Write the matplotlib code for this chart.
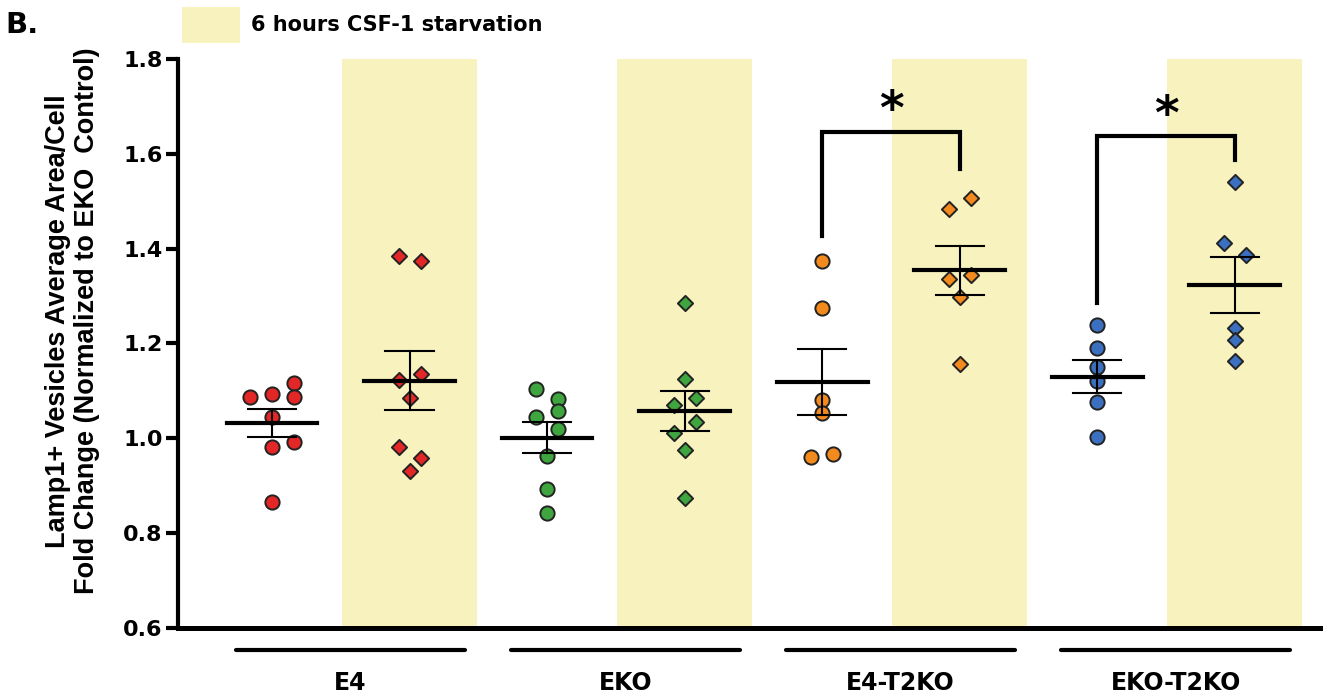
import numpy as np
import matplotlib.pyplot as plt
from matplotlib.patches import Rectangle

plt.rcParams['font.family'] = ['DejaVu Sans']
plt.rcParams['font.weight'] = 'bold'

groups = ['E4', 'EKO', 'E4-T2KO', 'EKO-T2KO']
colors = ['#e32626', '#3fa53f', '#f28a1e', '#3b70c0']
band_color = '#f8f2bf'

# control (circles)
ctrl_vals = [
    [1.087, 1.093, 1.116, 1.087, 1.044, 0.992, 0.982, 0.865],
    [1.103, 1.083, 1.057, 1.045, 1.020, 0.962, 0.894, 0.843],
    [1.375, 1.275, 1.080, 1.054, 0.961, 0.966],
    [1.239, 1.191, 1.151, 1.121, 1.077, 1.003],
]
ctrl_dx = [
    [-0.16, 0, 0.16, 0.16, 0, 0.16, 0, 0],
    [-0.08, 0.08, 0.08, -0.08, 0.08, 0, 0, 0],
    [0, 0, 0, 0, -0.08, 0.08],
    [0, 0, 0, 0, 0, 0],
]
# 6 hours CSF-1 starvation (diamonds)
starv_vals = [
    [1.385, 1.375, 1.135, 1.123, 1.084, 0.982, 0.959, 0.932],
    [1.286, 1.125, 1.084, 1.071, 1.035, 1.011, 0.976, 0.874],
    [1.506, 1.484, 1.345, 1.336, 1.297, 1.157],
    [1.540, 1.412, 1.387, 1.232, 1.207, 1.163],
]
starv_dx = [
    [-0.08, 0.08, 0.08, -0.08, 0, -0.08, 0.08, 0],
    [0, 0, 0.08, -0.08, 0.08, -0.08, 0, 0],
    [0.08, -0.08, 0.08, -0.08, 0, 0],
    [0, -0.08, 0.08, 0, 0, 0],
]

# significance brackets: group, left leg bottom, top, right leg bottom
sig_groups = [2, 3]
sig_left = [1.427, 1.286]
sig_top = [1.646, 1.637]
sig_right = [1.569, 1.588]

fig = plt.figure(figsize=(13.28, 6.98), dpi=100)
ax = fig.add_axes([0.134, 0.1003, 0.86, 0.8152])


def mean_sem(x, vals):
    v = np.array(vals)
    m = v.mean()
    s = v.std(ddof=1) / np.sqrt(len(v))
    ax.plot([x - 0.33, x + 0.33], [m, m], color='black', lw=3, zorder=4)
    ax.plot([x, x], [m - s, m + s], color='black', lw=1.5, zorder=4)
    for e in (m - s, m + s):
        ax.plot([x - 0.175, x + 0.175], [e, e], color='black', lw=1.5, zorder=4)


tr = ax.get_xaxis_transform()
for i, g in enumerate(groups):
    xc = 2 * i
    xs = 2 * i + 1
    ax.axvspan(xs - 0.49, xs + 0.49, color=band_color, lw=0, zorder=0)
    ax.scatter(xc + np.array(ctrl_dx[i]), ctrl_vals[i], s=105, marker='o',
               color=colors[i], edgecolor='#222222', linewidth=1.4, zorder=3)
    ax.scatter(xs + np.array(starv_dx[i]), starv_vals[i], s=60, marker='D',
               color=colors[i], edgecolor='#222222', linewidth=1.4, zorder=3)
    mean_sem(xc, ctrl_vals[i])
    mean_sem(xs, starv_vals[i])

    # group underline + label
    ax.plot([xc - 0.26, xc + 1.40], [-0.039, -0.039], color='black', lw=3,
            transform=tr, clip_on=False, solid_capstyle='round')
    ax.text(xc + 0.57, -0.097, g, transform=tr, ha='center', va='center',
            fontsize=17, fontweight='bold')

for g, yl, yt, yr in zip(sig_groups, sig_left, sig_top, sig_right):
    x0 = 2 * g
    x1 = 2 * g + 1
    ax.plot([x0, x0, x1, x1], [yl, yt, yt, yr], color='black', lw=3,
            solid_joinstyle='miter', zorder=5)
    ax.text((x0 + x1) / 2, yt - 0.005, '*', ha='center', va='bottom',
            fontsize=34, fontweight='bold')

ax.set_xlim(-0.684, 7.62)
ax.set_ylim(0.6, 1.8)
ax.set_yticks([0.6, 0.8, 1.0, 1.2, 1.4, 1.6, 1.8])
ax.set_yticklabels(['0.6', '0.8', '1.0', '1.2', '1.4', '1.6', '1.8'])
ax.set_xticks([])
ax.spines['top'].set_visible(False)
ax.spines['right'].set_visible(False)
ax.spines['left'].set_linewidth(3)
ax.spines['bottom'].set_linewidth(3.6)
ax.tick_params(axis='y', length=9, width=3, labelsize=16, pad=2)
for lab in ax.get_yticklabels():
    lab.set_fontweight('bold')
ax.set_ylabel('Lamp1+ Vesicles Average Area/Cell\nFold Change (Normalized to EKO  Control)',
              fontsize=19.5, fontweight='bold', linespacing=1.15,
              family='Liberation Sans')
ax.yaxis.set_label_coords(-0.068, 0.54)

# legend and panel letter
fig.patches.append(Rectangle((0.137, 0.938), 0.0437, 0.0516, transform=fig.transFigure,
                             facecolor=band_color, edgecolor='none'))
fig.text(0.189, 0.964, '6 hours CSF-1 starvation', ha='left', va='center',
         fontsize=15, fontweight='bold')
fig.text(0.004, 0.964, 'B.', ha='left', va='center', fontsize=21, fontweight='bold')

fig.savefig('out.png', dpi=100)
